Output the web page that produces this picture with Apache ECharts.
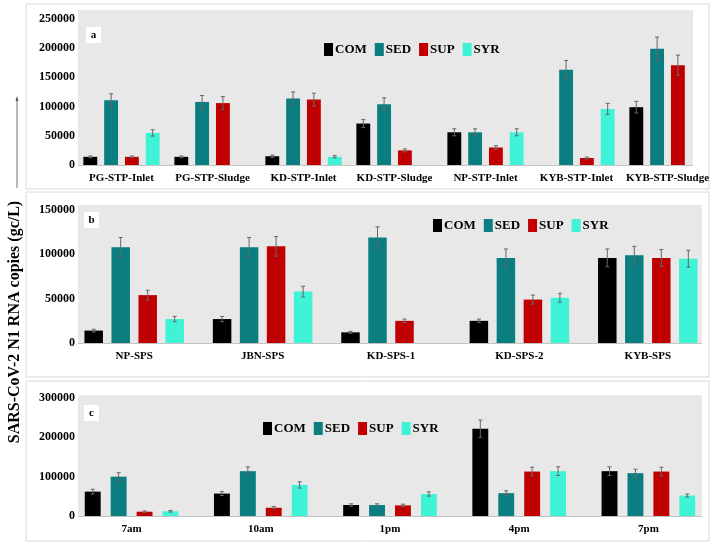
<!DOCTYPE html>
<html>
<head>
<meta charset="utf-8">
<script src="https://cdn.jsdelivr.net/npm/echarts@6/dist/echarts.min.js"></script>
<style>
  html, body { margin: 0; padding: 0; background: #fff; }
  #chart { width: 713px; height: 544px; }
</style>
</head>
<body>
<div id="chart"></div>
<script>
var groups = ['COM', 'SED', 'SUP', 'SYR'];
var colors = ['#000000', '#0a7e80', '#c00000', '#3ff3d6'];

// panel a
var catsA = ['PG-STP-Inlet', 'PG-STP-Sludge', 'KD-STP-Inlet', 'KD-STP-Sludge', 'NP-STP-Inlet', 'KYB-STP-Inlet', 'KYB-STP-Sludge'];
var comA = [14000, 14000, 15000, 71000, 56000, null, 99000];
var sedA = [111000, 108000, 114000, 104000, 56000, 163000, 199000];
var supA = [14000, 106000, 112000, 25000, 30000, 12000, 171000];
var syrA = [55000, null, 14000, null, 56000, 96000, null];
var comErrA = [1500, 1500, 2000, 7000, 6000, null, 10000];
var sedErrA = [11000, 11000, 11000, 11000, 6000, 16000, 20000];
var supErrA = [1500, 11000, 11000, 2500, 3000, 1500, 17000];
var syrErrA = [5500, null, 2000, null, 6000, 9500, null];

// panel b
var catsB = ['NP-SPS', 'JBN-SPS', 'KD-SPS-1', 'KD-SPS-2', 'KYB-SPS'];
var comB = [14000, 27000, 12000, 25000, 96000];
var sedB = [108000, 108000, 119000, 96000, 99000];
var supB = [54000, 109000, 25000, 49000, 96000];
var syrB = [27000, 58000, null, 51000, 95000];
var comErrB = [1500, 3000, 1000, 2000, 10000];
var sedErrB = [11000, 11000, 12000, 10000, 10000];
var supErrB = [5500, 11000, 2000, 5000, 9500];
var syrErrB = [3000, 6000, null, 5000, 9500];

// panel c
var catsC = ['7am', '10am', '1pm', '4pm', '7pm'];
var comC = [62000, 57000, 28000, 222000, 114000];
var sedC = [100000, 114000, 28000, 58000, 109000];
var supC = [11000, 21000, 27000, 113000, 113000];
var syrC = [12000, 79000, 56000, 114000, 52000];
var comErrC = [6000, 5000, 3000, 22000, 11000];
var sedErrC = [10000, 11000, 3000, 6000, 10000];
var supErrC = [2000, 3000, 3000, 11000, 11000];
var syrErrC = [2000, 8000, 5500, 11000, 4000];

var serif = 'Liberation Serif';

// the plot areas run a little past the grey backgrounds, as in the source figure
var panels = [
    { cats: catsA, vals: [comA, sedA, supA, syrA], errs: [comErrA, sedErrA, supErrA, syrErrA],
      left: 76, width: 643, top: 19, height: 146, max: 250000, interval: 50000, catGap: 0.162, gap: 0.5 },
    { cats: catsB, vals: [comB, sedB, supB, syrB], errs: [comErrB, sedErrB, supErrB, syrErrB],
      left: 70, width: 642, top: 210, height: 133, max: 150000, interval: 50000, catGap: 0.225, gap: 0.46 },
    { cats: catsC, vals: [comC, sedC, supC, syrC], errs: [comErrC, sedErrC, supErrC, syrErrC],
      left: 67, width: 648, top: 398, height: 118, max: 300000, interval: 100000, catGap: 0.275, gap: 0.63 }
];

var grids = [], xAxes = [], yAxes = [], series = [];

panels.forEach(function (p, gi) {
    grids.push({ left: p.left, width: p.width, top: p.top, height: p.height });
    xAxes.push({
        type: 'category', gridIndex: gi, data: p.cats,
        axisLine: { show: false },
        axisTick: { show: false },
        axisLabel: { color: '#000', fontFamily: serif, fontWeight: 'bold', fontSize: 11, margin: 8, interval: 0 }
    });
    yAxes.push({
        type: 'value', gridIndex: gi, min: 0, max: p.max, interval: p.interval,
        offset: p.left - 78,
        splitLine: { show: false },
        axisLine: { show: false },
        axisTick: { show: false },
        axisLabel: {
            color: '#000', fontFamily: serif, fontWeight: 'bold', fontSize: 12, margin: 3,
            formatter: function (v) { return String(v); }
        }
    });
    groups.forEach(function (g, si) {
        series.push({
            name: g, type: 'bar', xAxisIndex: gi, yAxisIndex: gi,
            data: p.vals[si].map(function (v) { return v == null ? '-' : v; }),
            itemStyle: { color: colors[si] },
            barGap: (p.gap * 100) + '%', barCategoryGap: (p.catGap * 100) + '%'
        });
    });
    groups.forEach(function (g, si) {
        var pts = [];
        p.vals[si].forEach(function (v, i) {
            if (v != null && p.errs[si][i] != null) pts.push([i, v, p.errs[si][i]]);
        });
        series.push({
            name: g + '-err', type: 'custom', xAxisIndex: gi, yAxisIndex: gi, z: 5, silent: true,
            data: pts,
            encode: { x: 0, y: 1 },
            renderItem: function (params, api) {
                var band = api.size([1, 0])[0];
                var avail = band * (1 - p.catGap);
                var w = avail / (4 + 3 * p.gap);
                var off = -avail / 2 + si * w * (1 + p.gap) + w / 2;
                var v = api.value(1), e = api.value(2);
                var hi = api.coord([api.value(0), v + e]);
                var lo = api.coord([api.value(0), v - e]);
                var x = hi[0] + off;
                var st = { stroke: '#666', lineWidth: 1 };
                return {
                    type: 'group',
                    children: [
                        { type: 'line', shape: { x1: x, y1: hi[1], x2: x, y2: lo[1] }, style: st },
                        { type: 'line', shape: { x1: x - 2, y1: hi[1], x2: x + 2, y2: hi[1] }, style: st },
                        { type: 'line', shape: { x1: x - 2, y1: lo[1], x2: x + 2, y2: lo[1] }, style: st }
                    ]
                };
            }
        });
    });
});

function legendAt(left, top) {
    return {
        left: left, top: top, data: groups, icon: 'rect',
        itemWidth: 9, itemHeight: 13, itemGap: 8, selectedMode: false,
        textStyle: { color: '#000', fontFamily: serif, fontWeight: 'bold', fontSize: 13, padding: [0, 0, 0, -3] }
    };
}

function panelLabel(x, y, txt) {
    return {
        type: 'group', left: x, top: y,
        children: [
            { type: 'rect', shape: { x: 0, y: 0, width: 15, height: 16 }, style: { fill: '#fff' } },
            { type: 'text', x: 7.5, y: 8, style: { text: txt, fill: '#000', font: 'bold 11px "Liberation Serif"', align: 'center', verticalAlign: 'middle' } }
        ]
    };
}

var frame = { fill: '#fff', stroke: '#d8d8d8', lineWidth: 1 };
var axisStroke = { stroke: '#c4c4c4', lineWidth: 1 };

var chart = echarts.init(document.getElementById('chart'));
chart.setOption({
    animation: false,
    backgroundColor: '#fff',
    grid: grids,
    xAxis: xAxes,
    yAxis: yAxes,
    legend: [legendAt(319, 38), legendAt(428, 214), legendAt(258, 417)],
    graphic: [
        { type: 'rect', z: -10, shape: { x: 26, y: 4, width: 683, height: 185 }, style: frame },
        { type: 'rect', z: -10, shape: { x: 26, y: 192, width: 683, height: 185 }, style: frame },
        { type: 'rect', z: -10, shape: { x: 26, y: 381, width: 683, height: 160 }, style: frame },
        { type: 'rect', z: -9, shape: { x: 78, y: 10, width: 615, height: 155 }, style: { fill: '#e8e8e8' } },
        { type: 'rect', z: -9, shape: { x: 78, y: 205, width: 624, height: 138 }, style: { fill: '#e8e8e8' } },
        { type: 'rect', z: -9, shape: { x: 78, y: 395, width: 624, height: 121 }, style: { fill: '#e8e8e8' } },
        { type: 'line', z: -8, shape: { x1: 78, y1: 165.5, x2: 693, y2: 165.5 }, style: axisStroke },
        { type: 'line', z: -8, shape: { x1: 78, y1: 343.5, x2: 702, y2: 343.5 }, style: axisStroke },
        { type: 'line', z: -8, shape: { x1: 78, y1: 516.5, x2: 702, y2: 516.5 }, style: axisStroke },
        panelLabel(86, 27, 'a'),
        panelLabel(84, 212, 'b'),
        panelLabel(84, 405, 'c'),
        { type: 'line', shape: { x1: 17, y1: 188, x2: 17, y2: 100 }, style: { stroke: '#777', lineWidth: 1 } },
        { type: 'polygon', shape: { points: [[17, 96], [15.5, 101], [18.5, 101]] }, style: { fill: '#555' } },
        {
            type: 'text', x: 15, y: 322, rotation: Math.PI / 2,
            style: { text: 'SARS-CoV-2 N1 RNA copies (gc/L)', fill: '#000', font: 'bold 16px "Liberation Serif"', align: 'center', verticalAlign: 'middle' }
        }
    ],
    series: series
});
</script>
</body>
</html>
